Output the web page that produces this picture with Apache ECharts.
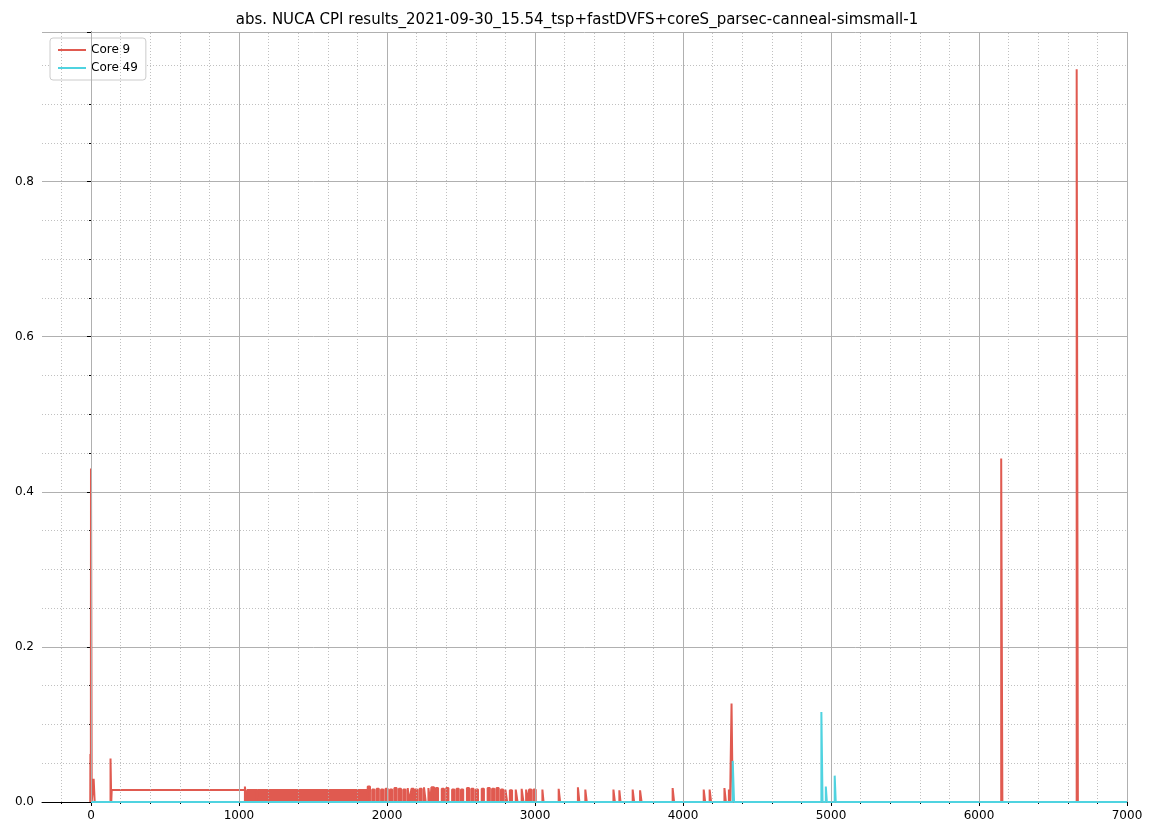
<!DOCTYPE html>
<html>
<head>
  <meta charset="utf-8">
  <script src="https://cdn.jsdelivr.net/npm/echarts@6.0.0/dist/echarts.min.js"></script>
</head>
<body style="margin:0">
  <div id="chart" style="width:1154px;height:836px;"></div>
  <script>
    // Core 9 pulses: start x, end x, height (outline)
    var core9Start = [-4, 0, 18, 132, 140, 1040, 3050, 3160, 3290, 3340, 3530, 3570, 3660, 3710, 3930, 4140, 4180, 4280, 4310, 4328, 6150, 6660];
    var core9End   = [-1, 5, 25, 137, 1040, 1050, 3058, 3170, 3300, 3350, 3540, 3578, 3670, 3720, 3940, 4150, 4190, 4290, 4318, 4336, 6158, 6668];
    var core9Y     = [0.062, 0.43, 0.03, 0.056, 0.0155, 0.02, 0.016, 0.017, 0.019, 0.016, 0.016, 0.015, 0.016, 0.015, 0.018, 0.016, 0.016, 0.018, 0.016, 0.127, 0.443, 0.945];
    // Core 9 dense filled pulses
    var denseStart = [1055, 1125, 1870, 1900, 1930, 1960, 1990, 2020, 2050, 2080, 2110, 2140, 2165, 2190, 2220, 2250, 2280, 2300, 2330, 2370, 2400, 2440, 2470, 2500, 2540, 2570, 2600, 2640, 2680, 2710, 2740, 2770, 2800, 2830, 2870, 2910, 2940, 2960, 2990];
    var denseEnd   = [1120, 1868, 1885, 1915, 1945, 1975, 2005, 2035, 2065, 2095, 2125, 2152, 2180, 2205, 2235, 2262, 2292, 2318, 2345, 2385, 2415, 2455, 2485, 2515, 2555, 2585, 2615, 2655, 2695, 2725, 2755, 2785, 2812, 2845, 2882, 2922, 2952, 2975, 3005];
    var denseY     = [0.0155, 0.0155, 0.02, 0.016, 0.017, 0.016, 0.017, 0.016, 0.018, 0.017, 0.016, 0.018, 0.017, 0.016, 0.017, 0.019, 0.018, 0.019, 0.018, 0.017, 0.018, 0.016, 0.017, 0.016, 0.018, 0.017, 0.016, 0.017, 0.018, 0.017, 0.018, 0.016, 0.016, 0.015, 0.016, 0.017, 0.016, 0.016, 0.016];
    var core49Start = [4336, 4935, 4965, 5025];
    var core49End   = [4345, 4943, 4972, 5032];
    var core49Y     = [0.053, 0.116, 0.02, 0.034];
    var xMajor = [0, 1000, 2000, 3000, 4000, 5000, 6000, 7000];
    var xMinor = [-200, 200, 400, 600, 800, 1200, 1400, 1600, 1800, 2200, 2400, 2600, 2800, 3200, 3400, 3600, 3800, 4200, 4400, 4600, 4800, 5200, 5400, 5600, 5800, 6200, 6400, 6600, 6800];

    function pulses(s, e, y, x0, x1) {
      var d = [[x0, 0]];
      for (var i = 0; i < s.length; i++) {
        d.push([s[i], 0], [s[i], y[i]], [e[i], y[i]], [e[i], 0]);
      }
      d.push([x1, 0]);
      return d;
    }

    var red = '#e05a50', cyan = '#4fd3e0';
    var chart = echarts.init(document.getElementById('chart'));
    var ax = { color: '#000', fontSize: 12, fontFamily: 'DejaVu Sans' };
    chart.setOption({
      animation: false,
      title: { text: 'abs. NUCA CPI results_2021-09-30_15.54_tsp+fastDVFS+coreS_parsec-canneal-simsmall-1',
        left: 'center', top: 8, textStyle: { fontSize: 15, fontWeight: 'normal', fontFamily: 'DejaVu Sans', color: '#000' } },
      legend: { data: ['Core 9', 'Core 49'], left: 50, top: 38, orient: 'vertical', itemWidth: 28, itemHeight: 2, itemGap: 6,
        borderColor: '#ccc', borderWidth: 1, borderRadius: 3, padding: [6, 8], backgroundColor: '#fff',
        textStyle: { fontSize: 12, fontFamily: 'DejaVu Sans', color: '#000' }, icon: 'rect' },
      grid: { left: 42, right: 27, top: 32, bottom: 34 },
      xAxis: [{
        type: 'value', min: -331, max: 7000,
        axisLine: { onZero: false, lineStyle: { color: '#000' } },
        axisTick: { customValues: xMajor, length: 4, lineStyle: { color: '#000' } },
        axisLabel: { customValues: xMajor, formatter: function (v) { return String(v); }, ...ax },
        splitLine: { show: false }
      }, {
        type: 'value', min: -331, max: 7000, position: 'bottom',
        axisLine: { show: false }, axisLabel: { show: false },
        axisTick: { customValues: xMinor, length: 2, lineStyle: { color: '#000' } },
        splitLine: { show: false }
      }],
      yAxis: {
        type: 'value', min: 0, max: 0.993, interval: 0.2,
        axisLine: { show: true, lineStyle: { color: '#000' } },
        axisTick: { show: true, length: 4 },
        minorTick: { show: true, splitNumber: 4, length: 2, lineStyle: { color: '#000' } },
        axisLabel: { formatter: function (v) { return v.toFixed(1); }, showMaxLabel: false, ...ax },
        splitLine: { lineStyle: { color: '#b0b0b0', width: 1 } },
        minorSplitLine: { show: true, lineStyle: { color: '#b0b0b0', type: [1, 2], width: 0.8 } }
      },
      series: [{
        name: 'grid', type: 'line', data: [], silent: true,
        markLine: { silent: true, symbol: 'none', label: { show: false },
          data: xMajor.map(function (v) { return { xAxis: v, lineStyle: { color: '#b0b0b0', type: 'solid', width: 1 } }; })
            .concat(xMinor.map(function (v) { return { xAxis: v, lineStyle: { color: '#b0b0b0', type: [1, 2], width: 0.8 } }; })) }
      }, {
        name: 'Core 9', type: 'line', showSymbol: false, data: pulses(denseStart, denseEnd, denseY, 1050, 3010),
        lineStyle: { color: red, width: 2 }, itemStyle: { color: red }, areaStyle: { color: red, opacity: 1 }
      }, {
        name: 'Core 9', type: 'line', showSymbol: false, data: pulses(core9Start, core9End, core9Y, -5, 6700),
        lineStyle: { color: red, width: 2 }, itemStyle: { color: red }
      }, {
        name: 'Core 49', type: 'line', showSymbol: false, data: pulses(core49Start, core49End, core49Y, 0, 7000),
        lineStyle: { color: cyan, width: 2 }, itemStyle: { color: cyan }
      }]
    });
  </script>
</body>
</html>
